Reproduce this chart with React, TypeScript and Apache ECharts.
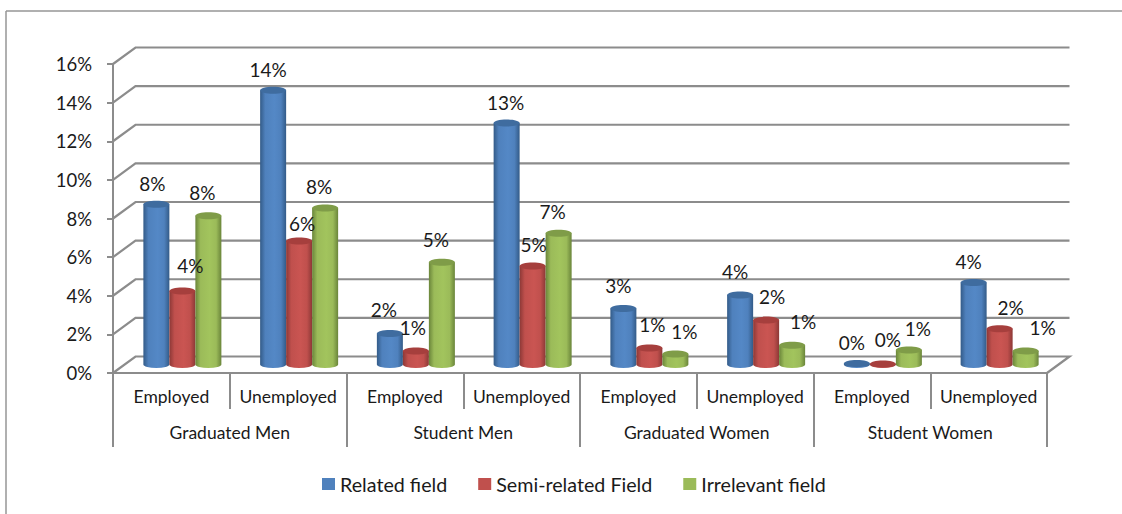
import React, { useEffect, useRef } from "react";
import * as echarts from "echarts";

const statuses = ["Employed", "Unemployed", "Employed", "Unemployed", "Employed", "Unemployed", "Employed", "Unemployed"];
const groups = ["Graduated Men", "Student Men", "Graduated Women", "Student Women"];
const yTicks = [0, 2, 4, 6, 8, 10, 12, 14, 16];

const relatedField = [8.3, 14.2, 1.6, 12.5, 2.9, 3.6, 0.05, 4.25];
const semiRelatedField = [3.8, 6.4, 0.7, 5.1, 0.85, 2.3, 0.03, 1.85];
const irrelevantField = [7.7, 8.1, 5.3, 6.8, 0.55, 1.0, 0.75, 0.7];

const relatedLabels = ["8%", "14%", "2%", "13%", "3%", "4%", "0%", "4%"];
const semiRelatedLabels = ["4%", "6%", "1%", "5%", "1%", "2%", "0%", "2%"];
const irrelevantLabels = ["8%", "8%", "5%", "7%", "1%", "1%", "1%", "1%"];

// Label nudges, as Excel placed them around the cylinder tops: [dx, dy]
const relatedNudge = [[-4, -21], [-5, -21], [-6, -24], [-1, -21], [-5, -23], [-5, -23], [-5, -21], [-5, -21]];
const semiNudge = [[8, -26], [3, -17], [-3, -23], [1, -22], [3, -24], [6, -24], [5, -24], [11, -21]];
const irrelevantNudge = [[-6, -23], [-6, -22], [-6, -23], [-6, -22], [9, -22], [11, -24], [9, -22], [17, -23]];

const FONT = "Lato";
const AXIS_FONT_SIZE = 17.5;
const DATA_FONT_SIZE = 19;
const TEXT = "#1a1a1a";
const LINE = "#8c8c8c";
const DEPTH_X = 22.5;
const DEPTH_Y = 16.5;
const MID_X = 11;
const MID_Y = 8.5;
const BAR_W = 26;
const RY = 3.5;

const seriesDefs = [
  { name: "Related field", values: relatedField, labels: relatedLabels, nudge: relatedNudge, main: "#4F81BD", light: "#5488C6", edge: "#335B88", top: "#3F6C9F" },
  { name: "Semi-related Field", values: semiRelatedField, labels: semiRelatedLabels, nudge: semiNudge, main: "#C0504D", light: "#CA5552", edge: "#8C3836", top: "#A63F3D" },
  { name: "Irrelevant field", values: irrelevantField, labels: irrelevantLabels, nudge: irrelevantNudge, main: "#9BBB59", light: "#A2C45D", edge: "#6A853A", top: "#7F9C48" },
];

function cylinderSeries(def: (typeof seriesDefs)[number], s: number) {
  return {
    type: "custom",
    name: def.name,
    xAxisIndex: 0,
    yAxisIndex: 0,
    z: 5 + s,
    silent: true,
    itemStyle: { color: def.main },
    data: def.values.map((v, i) => [i, v]),
    renderItem: (_p: any, api: any) => {
      const base = api.coord([api.value(0), 0]);
      const head = api.coord([api.value(0), api.value(1)]);
      const cx = base[0] + MID_X + (s - 1) * BAR_W;
      const x0 = cx - BAR_W / 2;
      const x1 = cx + BAR_W / 2;
      const yb = base[1] - MID_Y;
      const yt = head[1] - MID_Y;
      const d = `M${x0} ${yt} L${x0} ${yb} A${BAR_W / 2} ${RY} 0 0 0 ${x1} ${yb} L${x1} ${yt} Z`;
      return {
        type: "group",
        children: [
          {
            type: "path",
            shape: { pathData: d },
            style: {
              fill: {
                type: "linear",
                x: 0,
                y: 0,
                x2: 1,
                y2: 0,
                colorStops: [
                  { offset: 0, color: def.edge },
                  { offset: 0.2, color: def.main },
                  { offset: 0.55, color: def.light },
                  { offset: 0.8, color: def.main },
                  { offset: 1, color: def.edge },
                ],
              },
            },
          },
          { type: "ellipse", shape: { cx, cy: yt, rx: BAR_W / 2, ry: RY }, style: { fill: def.top } },
        ],
      };
    },
  };
}

function labelSeries() {
  const data: any[] = [];
  seriesDefs.forEach((def, s) => {
    def.values.forEach((v, i) => {
      data.push([i, v, s, def.labels[i], def.nudge[i][0], def.nudge[i][1]]);
    });
  });
  return {
    type: "custom",
    xAxisIndex: 0,
    yAxisIndex: 0,
    z: 20,
    silent: true,
    data,
    renderItem: (_p: any, api: any) => {
      const pt = api.coord([api.value(0), api.value(1)]);
      return {
        type: "text",
        style: {
          text: String(api.value(3)),
          x: pt[0] + MID_X + (api.value(2) - 1) * BAR_W + api.value(4),
          y: pt[1] - MID_Y + api.value(5),
          align: "center",
          verticalAlign: "middle",
          fill: TEXT,
          font: `${DATA_FONT_SIZE}px ${FONT}`,
        },
      };
    },
  };
}

function wallSeries() {
  return {
    type: "custom",
    xAxisIndex: 0,
    yAxisIndex: 0,
    z: 1,
    silent: true,
    data: yTicks.map((t) => [0, t]),
    renderItem: (p: any, api: any) => {
      const y = api.coord([0, api.value(1)])[1];
      const { x, width } = p.coordSys;
      const pts = [
        [x, y],
        [x + DEPTH_X, y - DEPTH_Y],
        [x + width + DEPTH_X, y - DEPTH_Y],
      ];
      if (api.value(1) === 0) pts.push([x + width, y]);
      return {
        type: "polyline",
        shape: { points: pts },
        style: { stroke: LINE, lineWidth: 2.2, fill: "none" },
      };
    },
  };
}

export default function App() {
  const ref = useRef<HTMLDivElement>(null);
  useEffect(() => {
    document.body.style.margin = "0";
    const chart = echarts.init(ref.current!, null, { renderer: "svg" });
    const axisLine = { show: true, lineStyle: { color: LINE, width: 2 } };
    chart.setOption({
      animation: false,
      backgroundColor: "#ffffff",
      textStyle: { fontFamily: FONT },
      grid: { left: 113, width: 934, top: 64, height: 309 },
      legend: {
        data: seriesDefs.map((d) => d.name),
        left: 317,
        top: 469,
        icon: "rect",
        itemWidth: 13,
        itemHeight: 12,
        itemGap: 31,
        textStyle: { fontFamily: FONT, fontSize: 19.7, color: TEXT },
      },
      xAxis: [
        {
          type: "category",
          data: statuses,
          position: "bottom",
          axisLine,
          axisTick: { show: true, length: 36, interval: 0, lineStyle: { color: LINE, width: 2 } },
          axisLabel: { interval: 0, margin: 14, fontFamily: FONT, fontSize: AXIS_FONT_SIZE, color: TEXT },
        },
        {
          type: "category",
          data: groups,
          position: "bottom",
          axisLine,
          axisTick: { show: true, length: 74, interval: 0, lineStyle: { color: LINE, width: 2 } },
          axisLabel: { interval: 0, margin: 50, fontFamily: FONT, fontSize: AXIS_FONT_SIZE, color: TEXT },
        },
      ],
      yAxis: {
        type: "value",
        min: 0,
        max: 16,
        interval: 2,
        splitLine: { show: false },
        axisLine,
        axisTick: { show: true, length: 6, lineStyle: { color: LINE, width: 2 } },
        axisLabel: { margin: 21, fontFamily: FONT, fontSize: 18.5, color: TEXT, formatter: (v: number) => `${v}%` },
      },
      graphic: [
        { type: "line", shape: { x1: 6, y1: 11, x2: 1122, y2: 11 }, style: { stroke: "#969696", lineWidth: 1.5 } },
        { type: "line", shape: { x1: 6, y1: 11, x2: 6, y2: 514 }, style: { stroke: "#969696", lineWidth: 1.5 } },
      ],
      series: [wallSeries(), ...seriesDefs.map(cylinderSeries), labelSeries()],
    });
    return () => chart.dispose();
  }, []);
  return <div ref={ref} style={{ position: "absolute", left: 0, top: 0, width: 1122, height: 514 }} />;
}
